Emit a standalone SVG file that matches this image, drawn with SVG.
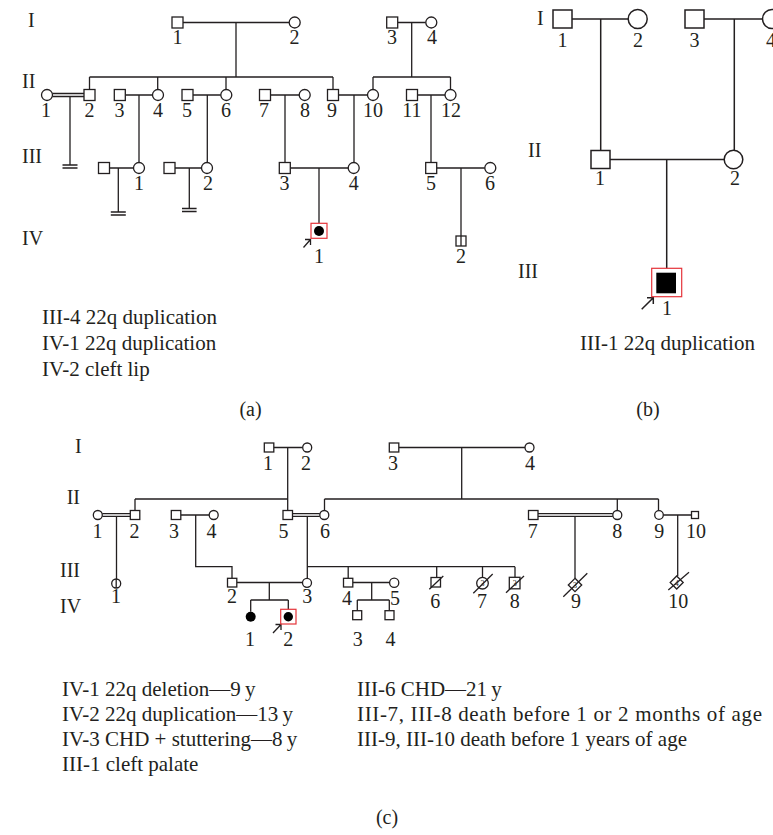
<svg xmlns="http://www.w3.org/2000/svg" width="773" height="835" viewBox="0 0 773 835">
<style>
.ln{stroke:#231f20;stroke-width:1.3;fill:none}
.lb{stroke:#231f20;stroke-width:1.5;fill:none}
.sym{fill:#fff;stroke:#231f20;stroke-width:1.3}
.symb{fill:#fff;stroke:#231f20;stroke-width:1.5}
.aff{fill:#000;stroke:none}
.prob{fill:none;stroke:#e5343a;stroke-width:1.2}
.t{font-family:"Liberation Serif","Times New Roman",serif;font-size:20px;fill:#231f20}
.c{text-anchor:middle}
.s{font-family:"Liberation Serif","Times New Roman",serif;font-size:8px;fill:#231f20;text-anchor:middle}
.lg{font-family:"Liberation Serif","Times New Roman",serif;font-size:21px;fill:#231f20}
</style>
<rect width="773" height="835" fill="#fff"/>

<!-- ===== Panel (a) ===== -->
<g id="a-genlabels" class="t">
<text x="28" y="27">I</text>
<text x="22" y="88">II</text>
<text x="22" y="163">III</text>
<text x="22" y="245">IV</text>
</g>
<g id="a-connectors" class="ln">
<path d="M183 22.5H289.2M236 22.5V77M89.5 77H333M89.5 77V89.5M157.7 77V89.5M226 77V89.5M333 77V89.5"/>
<path d="M397.7 22.5H425.8M411.7 22.5V77M373 77H450.5M373 77V89.5M450.5 77V89.5"/>
<path d="M52.5 93.5H84M52.5 96.5H84M70 96.5V165M62.5 165H77.5M62.5 168H77.5"/>
<path d="M125.3 95H152.5M139 95V162.5"/>
<path d="M193 95H220.8M207.3 95V162.5"/>
<path d="M270.5 95H299.2M285 95V162.5"/>
<path d="M338.5 95H367.5M354 95V162.5"/>
<path d="M417.5 95H445M431 95V162.5"/>
<path d="M109.5 168H133.5M118.3 168V212M110.8 212H125.8M110.8 215H125.8"/>
<path d="M174.5 168H201.5M189.3 168V208.5M182 208.5H196.6M182 211.5H196.6"/>
<path d="M290.3 168H348.2M319 168V223.3"/>
<path d="M436.7 168H484.8M461 168V236"/>
<path d="M303.5 247.5L310.5 239.5M305 239.5H310.5V245"/>
</g>
<g id="a-I-1"><rect class="sym" x="172" y="17" width="11" height="11"/><text class="t c" x="177.5" y="44">1</text></g>
<g id="a-I-2"><circle class="sym" cx="294.7" cy="22.5" r="5.5"/><text class="t c" x="294.5" y="44">2</text></g>
<g id="a-I-3"><rect class="sym" x="386.7" y="17" width="11" height="11"/><text class="t c" x="392" y="44">3</text></g>
<g id="a-I-4"><circle class="sym" cx="431.3" cy="22.5" r="5.5"/><text class="t c" x="432" y="44">4</text></g>
<g id="a-II-1"><circle class="sym" cx="47" cy="95" r="5.5"/><text class="t c" x="46" y="116.5">1</text></g>
<g id="a-II-2"><rect class="sym" x="84" y="89.5" width="11" height="11"/><text class="t c" x="89.5" y="116.5">2</text></g>
<g id="a-II-3"><rect class="sym" x="114.3" y="89.5" width="11" height="11"/><text class="t c" x="119.5" y="116.5">3</text></g>
<g id="a-II-4"><circle class="sym" cx="158" cy="95" r="5.5"/><text class="t c" x="158" y="116.5">4</text></g>
<g id="a-II-5"><rect class="sym" x="182" y="89.5" width="11" height="11"/><text class="t c" x="187" y="116.5">5</text></g>
<g id="a-II-6"><circle class="sym" cx="226.3" cy="95" r="5.5"/><text class="t c" x="226" y="116.5">6</text></g>
<g id="a-II-7"><rect class="sym" x="259.5" y="89.5" width="11" height="11"/><text class="t c" x="264" y="116.5">7</text></g>
<g id="a-II-8"><circle class="sym" cx="304.7" cy="95" r="5.5"/><text class="t c" x="305" y="116.5">8</text></g>
<g id="a-II-9"><rect class="sym" x="327.5" y="89.5" width="11" height="11"/><text class="t c" x="332" y="116.5">9</text></g>
<g id="a-II-10"><circle class="sym" cx="373" cy="95" r="5.5"/><text class="t c" x="373" y="116.5">10</text></g>
<g id="a-II-11"><rect class="sym" x="406.5" y="89.5" width="11" height="11"/><text class="t c" x="412" y="116.5">11</text></g>
<g id="a-II-12"><circle class="sym" cx="450.5" cy="95" r="5.5"/><text class="t c" x="451" y="116.5">12</text></g>
<g id="a-III-1sp"><rect class="sym" x="98.5" y="162.5" width="11" height="11"/></g>
<g id="a-III-1"><circle class="sym" cx="139" cy="168" r="5.5"/><text class="t c" x="139" y="189.5">1</text></g>
<g id="a-III-2sp"><rect class="sym" x="164" y="162.5" width="11" height="11"/></g>
<g id="a-III-2"><circle class="sym" cx="207" cy="168" r="5.5"/><text class="t c" x="208" y="189.5">2</text></g>
<g id="a-III-3"><rect class="sym" x="279.3" y="162.5" width="11" height="11"/><text class="t c" x="284.5" y="189.5">3</text></g>
<g id="a-III-4"><circle class="sym" cx="353.7" cy="168" r="5.5"/><text class="t c" x="353.7" y="189.5">4</text></g>
<g id="a-III-5"><rect class="sym" x="425.7" y="162.5" width="11" height="11"/><text class="t c" x="431" y="189.5">5</text></g>
<g id="a-III-6"><circle class="sym" cx="490.3" cy="168" r="5.5"/><text class="t c" x="490" y="189.5">6</text></g>
<g id="a-IV-1"><rect class="prob" x="311" y="223.3" width="16" height="15"/><circle class="aff" cx="319" cy="231" r="5"/><text class="t c" x="319" y="263">1</text></g>
<g id="a-IV-2"><rect class="sym" x="456" y="236" width="10" height="10"/><path class="ln" d="M461 236V246"/><text class="t c" x="461" y="263">2</text></g>
<g id="a-legend" class="lg">
<text x="42" y="324">III-4 22q duplication</text>
<text x="42" y="350">IV-1 22q duplication</text>
<text x="42" y="376">IV-2 cleft lip</text>
</g>
<text id="a-caption" class="t c" x="250.5" y="416">(a)</text>

<!-- ===== Panel (b) ===== -->
<g id="b-genlabels" class="t">
<text x="537" y="25">I</text>
<text x="528" y="156.5">II</text>
<text x="518" y="278">III</text>
</g>
<g id="b-connectors" class="lb">
<path d="M572 19H628.2M600.7 19V150.5"/>
<path d="M704 19H762.5M734.3 19V150.2"/>
<path d="M610 159.5H724.2M666.7 159.5V268.3"/>
<path d="M641.7 309.3L653.3 297.7M647 297.7H653.3V304"/>
</g>
<g id="b-I-1"><rect class="symb" x="553" y="10" width="19" height="18"/><text class="t c" x="562.5" y="46.5">1</text></g>
<g id="b-I-2"><circle class="symb" cx="637.7" cy="19" r="9.5"/><text class="t c" x="638" y="46.5">2</text></g>
<g id="b-I-3"><rect class="symb" x="685" y="10" width="19" height="18"/><text class="t c" x="694.5" y="46.5">3</text></g>
<g id="b-I-4"><circle class="symb" cx="772" cy="19" r="9.5"/><text class="t c" x="771" y="46.5">4</text></g>
<g id="b-II-1"><rect class="symb" x="591" y="150.5" width="19" height="18"/><text class="t c" x="600" y="185">1</text></g>
<g id="b-II-2"><circle class="symb" cx="733.5" cy="159.5" r="9.3"/><text class="t c" x="735" y="185">2</text></g>
<g id="b-III-1"><rect class="prob" x="651.7" y="268.3" width="30" height="28.4"/><rect class="aff" x="656.3" y="272.7" width="19.7" height="20.6"/><text class="t c" x="667" y="315">1</text></g>
<text id="b-legend" class="lg" x="580" y="350">III-1 22q duplication</text>
<text id="b-caption" class="t c" x="648" y="416">(b)</text>

<!-- ===== Panel (c) ===== -->
<g id="c-genlabels" class="t">
<text x="75" y="453">I</text>
<text x="66.7" y="504">II</text>
<text x="60" y="577">III</text>
<text x="60" y="613">IV</text>
</g>
<g id="c-connectors" class="ln">
<path d="M273.8 447.5H302.7M287.7 447.5V510.5M135 499H287.7M135 499V510.5"/>
<path d="M398.8 447.5H525M461.7 447.5V499M324.5 499H658.5M324.5 499V510.5M617.3 499V510.5M658.5 499V510.7"/>
<path d="M102.3 513.7H130.3M102.3 516.3H130.3M116.5 516.3V579"/>
<path d="M180.8 515H209.2M195.7 515V566.7H232V578.3"/>
<path d="M292.5 513.7H319.8M292.5 516.3H319.8M307.3 516.3V578.3"/>
<path d="M307.3 566.7H515M348.2 566.7V578.3M436.7 566.7V577.5M482.5 566.7V577.4M515 566.7V577.3"/>
<path d="M538 513.7H612.8M538 516.3H612.8M575 516.3V578.3"/>
<path d="M663.3 515H691.5M677.7 515V576"/>
<path d="M236.8 582.5H302.5M269.3 582.5V600M250.7 600H288.3M250.7 600V611.7M288.3 600V609.3"/>
<path d="M352.8 582.5H389.6M371.7 582.5V600M357.3 600H389.3M357.3 600V610.7M389.3 600V610.7"/>
<path d="M273 633L281 624.5M275.5 624.5H281V630"/>
</g>
<g id="c-I-1"><rect class="sym" x="264.3" y="443" width="9.5" height="9"/><text class="t c" x="268" y="470">1</text></g>
<g id="c-I-2"><circle class="sym" cx="307.2" cy="447.5" r="4.5"/><text class="t c" x="306" y="470">2</text></g>
<g id="c-I-3"><rect class="sym" x="389.3" y="443" width="9.5" height="9"/><text class="t c" x="393" y="470">3</text></g>
<g id="c-I-4"><circle class="sym" cx="529.5" cy="447.5" r="4.5"/><text class="t c" x="530" y="470">4</text></g>
<g id="c-II-1"><circle class="sym" cx="97.8" cy="515" r="4.5"/><text class="t c" x="97.5" y="538">1</text></g>
<g id="c-II-2"><rect class="sym" x="130.3" y="510.5" width="9.5" height="9"/><text class="t c" x="134.5" y="538">2</text></g>
<g id="c-II-3"><rect class="sym" x="171.3" y="510.5" width="9.5" height="9"/><text class="t c" x="174" y="538">3</text></g>
<g id="c-II-4"><circle class="sym" cx="213.7" cy="515" r="4.5"/><text class="t c" x="211.5" y="538">4</text></g>
<g id="c-II-5"><rect class="sym" x="283" y="510.5" width="9.5" height="9"/><text class="t c" x="283.5" y="538">5</text></g>
<g id="c-II-6"><circle class="sym" cx="324.3" cy="515" r="4.5"/><text class="t c" x="325" y="538">6</text></g>
<g id="c-II-7"><rect class="sym" x="528.5" y="510.5" width="9.5" height="9"/><text class="t c" x="532.7" y="538">7</text></g>
<g id="c-II-8"><circle class="sym" cx="617.3" cy="515" r="4.5"/><text class="t c" x="617.3" y="538">8</text></g>
<g id="c-II-9"><circle class="sym" cx="659" cy="515" r="4.3"/><text class="t c" x="659.3" y="538">9</text></g>
<g id="c-II-10"><rect class="sym" x="691.5" y="511.5" width="7" height="7"/><text class="t c" x="696" y="538">10</text></g>
<g id="c-III-1"><circle class="sym" cx="116.2" cy="583.5" r="4.5"/><path class="ln" d="M116.2 579V588"/><text class="t c" x="116" y="603">1</text></g>
<g id="c-III-2"><rect class="sym" x="227.5" y="578.3" width="9.3" height="8.7"/><text class="t c" x="232" y="603">2</text></g>
<g id="c-III-3"><circle class="sym" cx="307" cy="582.8" r="4.5"/><text class="t c" x="307.3" y="603">3</text></g>
<g id="c-III-4"><rect class="sym" x="343.5" y="578.3" width="9.3" height="8.7"/><text class="t c" x="347" y="605">4</text></g>
<g id="c-III-5"><circle class="sym" cx="394.2" cy="582.8" r="4.6"/><text class="t c" x="395" y="605">5</text></g>
<g id="c-III-6"><rect class="sym" x="431" y="577.5" width="9.5" height="9.5"/><path class="ln" d="M429.3 589.3L443.3 576"/><text class="t c" x="435.3" y="608.3">6</text></g>
<g id="c-III-7"><circle class="sym" cx="482.5" cy="583.2" r="5.8"/><text class="s" x="482.5" y="586">3</text><path class="ln" d="M473.3 593.3L492.7 574"/><text class="t c" x="482" y="608.3">7</text></g>
<g id="c-III-8"><rect class="sym" x="509.3" y="577.3" width="10.7" height="11.5"/><text class="s" x="514.7" y="586">3</text><path class="ln" d="M506 592.7L524 576"/><text class="t c" x="514.7" y="608.3">8</text></g>
<g id="c-III-9"><path class="sym" d="M575 578.3L581.7 585L575 591.7L568.3 585Z"/><text class="s" x="575" y="588">3</text><path class="ln" d="M563.3 596.7L587.3 573.3"/><text class="t c" x="576" y="608.3">9</text></g>
<g id="c-III-10"><path class="sym" d="M676.7 576L683.2 582.5L676.7 589L670.2 582.5Z"/><text class="s" x="676.7" y="585.5">4</text><path class="ln" d="M668.3 590L689 572.3"/><text class="t c" x="678.3" y="608.3">10</text></g>
<g id="c-IV-1"><circle class="aff" cx="250.7" cy="616.7" r="5"/><text class="t c" x="250" y="646">1</text></g>
<g id="c-IV-2"><rect class="prob" x="280.7" y="609.3" width="15.3" height="14.7"/><circle class="aff" cx="288.3" cy="616.7" r="4.7"/><text class="t c" x="288.3" y="646">2</text></g>
<g id="c-IV-3"><rect class="sym" x="352.7" y="610.7" width="9" height="9"/><text class="t c" x="357.7" y="646">3</text></g>
<g id="c-IV-4"><rect class="sym" x="385" y="610.7" width="9" height="9"/><text class="t c" x="390.5" y="646">4</text></g>
<g id="c-legend" class="lg">
<text x="62" y="696">IV-1 22q deletion—9&#8201;y</text>
<text x="62" y="721">IV-2 22q duplication—13&#8201;y</text>
<text x="62" y="746">IV-3 CHD + stuttering—8&#8201;y</text>
<text x="62" y="771">III-1 cleft palate</text>
<text x="357" y="696">III-6 CHD—21&#8201;y</text>
<text x="357" y="721" textLength="405" lengthAdjust="spacing">III-7, III-8 death before 1 or 2 months of age</text>
<text x="357" y="746">III-9, III-10 death before 1 years of age</text>
</g>
<text id="c-caption" class="t c" x="387" y="824">(c)</text>
</svg>
